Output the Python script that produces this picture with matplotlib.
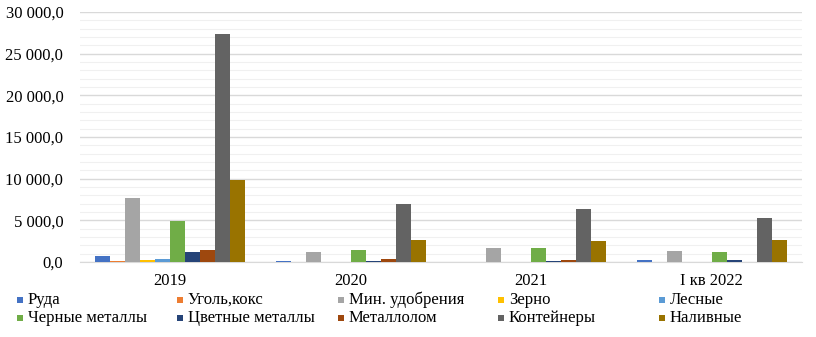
import matplotlib
matplotlib.use("Agg")
import matplotlib.pyplot as plt
from matplotlib.ticker import MultipleLocator, FuncFormatter
from matplotlib.patches import Rectangle
import numpy as np

plt.rcParams['font.family'] = ['Liberation Serif', 'DejaVu Serif']

categories = ["2019", "2020", "2021", "I кв 2022"]
series_names = ["Руда", "Уголь,кокс", "Мин. удобрения", "Зерно", "Лесные",
                "Черные металлы", "Цветные металлы", "Металлолом", "Контейнеры", "Наливные"]

ruda = [700, 150, 30, 200]
ugol = [170, 50, 20, 20]
min_udobr = [7700, 1200, 1700, 1350]
zerno = [250, 50, 20, 50]
lesnye = [400, 30, 30, 20]
chernye = [4950, 1500, 1650, 1150]
tsvetnye = [1200, 150, 150, 300]
metallolom = [1450, 400, 300, 50]
konteinery = [27400, 7000, 6400, 5300]
nalivnye = [9800, 2600, 2500, 2600]

values = [ruda, ugol, min_udobr, zerno, lesnye, chernye, tsvetnye, metallolom, konteinery, nalivnye]
colors = ["#4472C4", "#ED7D31", "#A5A5A5", "#FFC000", "#5B9BD5",
          "#70AD47", "#264478", "#9E480E", "#636363", "#997300"]

W, H = 816, 337
fig = plt.figure(figsize=(W/100, H/100), dpi=100)
ax = fig.add_axes([80/W, 1-262/H, 722/W, 250/H])

n = len(values)
group_w = 150/180.5
bw = group_w / n
x = np.arange(len(categories))
for i, (vals, c) in enumerate(zip(values, colors)):
    ax.bar(x - group_w/2 + bw*(i+0.5), vals, width=bw, color=c, label=series_names[i], zorder=3)

ax.set_xlim(-0.5, len(categories)-0.5)
ax.set_ylim(0, 30000)
ax.yaxis.set_major_locator(MultipleLocator(5000))
ax.yaxis.set_minor_locator(MultipleLocator(1000))
ax.yaxis.set_major_formatter(FuncFormatter(lambda v, p: f"{v:,.1f}".replace(",", " ").replace(".", ",")))
ax.grid(axis='y', which='major', color='#d9d9d9', linewidth=1.0, zorder=0)
ax.grid(axis='y', which='minor', color='#f0f0f0', linewidth=0.8, zorder=0)
for s in ['top', 'right', 'left']:
    ax.spines[s].set_visible(False)
ax.spines['bottom'].set_color('#d9d9d9')
ax.set_xticks(x)
ax.set_xticklabels(categories)
ax.tick_params(axis='both', which='both', length=0, labelsize=12)
ax.tick_params(axis='y', pad=12)
ax.tick_params(axis='x', pad=8)

# legend: 5 columns x 2 rows at fixed positions
col_x = [17, 177, 338, 498, 659]
row_y = [300, 318]
for k, name in enumerate(series_names):
    r, cidx = divmod(k, 5)
    mx, my = col_x[cidx], row_y[r]
    fig.patches.append(Rectangle((mx/W, 1-(my+3)/H), 6/W, 6/H, transform=fig.transFigure,
                                 facecolor=colors[k], edgecolor='none', figure=fig))
    fig.text((mx+11)/W, 1-my/H, name, fontsize=12, va='center', ha='left')

fig.savefig("out.png", dpi=100)
